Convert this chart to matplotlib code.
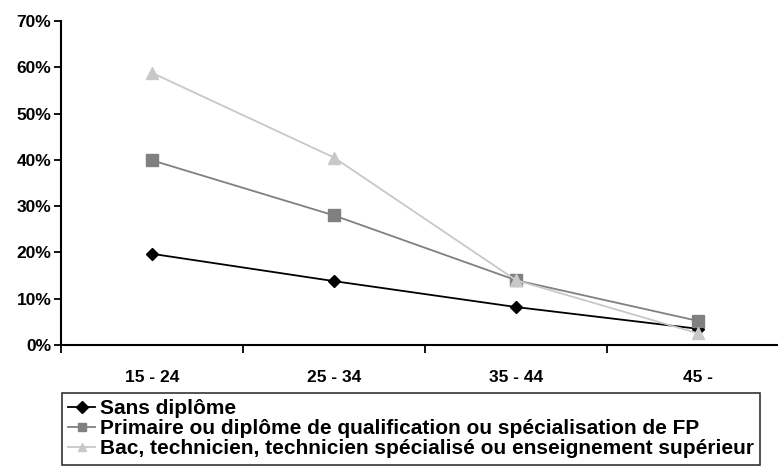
import matplotlib
matplotlib.use("Agg")
import matplotlib.pyplot as plt
from matplotlib.ticker import FuncFormatter

categories = ["15 - 24", "25 - 34", "35 - 44", "45 -"]
sans_diplome = [19.7, 13.8, 8.2, 3.5]
primaire = [39.9, 28.0, 14.0, 5.2]
bac = [58.8, 40.5, 14.0, 2.5]
labels = ["Sans diplôme",
          "Primaire ou diplôme de qualification ou spécialisation de FP",
          "Bac, technicien, technicien spécialisé ou enseignement supérieur"]

plt.rcParams['font.family'] = ['Liberation Sans', 'DejaVu Sans']

fig = plt.figure(figsize=(7.78, 4.75), dpi=100)
ax = fig.add_axes([61/778, 1-345/475, 728/778, 324/475])

x = list(range(1, len(categories)+1))
l1, = ax.plot(x, sans_diplome, color="black", marker="D", markersize=6, lw=1.3, label=labels[0])
l2, = ax.plot(x, primaire, color="#808080", marker="s", markersize=8, lw=1.3, label=labels[1])
l3, = ax.plot(x, bac, color="#c8c8c8", marker="^", markersize=9, lw=1.3, label=labels[2])

ax.set_xlim(0.5, 4.5)
ax.set_ylim(0, 70)
ax.set_yticks(range(0, 71, 10))
ax.yaxis.set_major_formatter(FuncFormatter(lambda v, p: f"{int(v)}%"))
ax.set_xticks([0.5, 1.5, 2.5, 3.5, 4.5])
ax.set_xticklabels([])
ax.set_xticks(x, minor=True)
ax.set_xticklabels(categories, minor=True)
ax.tick_params(axis='x', which='minor', length=0, pad=18, labelsize=12.5)
ax.tick_params(axis='x', which='major', length=6, width=1.3, direction='out')
ax.tick_params(axis='y', length=5, width=1.3, direction='out', labelsize=12.5, pad=2)
for lab in ax.get_xticklabels(minor=True) + ax.get_yticklabels():
    lab.set_fontweight('bold')
for s in ['top', 'right']:
    ax.spines[s].set_visible(False)
for s in ['left', 'bottom']:
    ax.spines[s].set_linewidth(1.5)

leg = fig.legend(handles=[l1, l2, l3], loc='upper left',
                 bbox_to_anchor=(62/778, 1-393/475), frameon=True, fancybox=False,
                 edgecolor='black', handlelength=1.3, handletextpad=0.2,
                 labelspacing=0.05, borderpad=0.3, borderaxespad=0,
                 prop={'size': 15.0, 'weight': 'bold'})
leg.get_frame().set_linewidth(1.2)
for h in leg.legend_handles:
    h.set_markersize(6)

fig.savefig("out.png", dpi=100)
